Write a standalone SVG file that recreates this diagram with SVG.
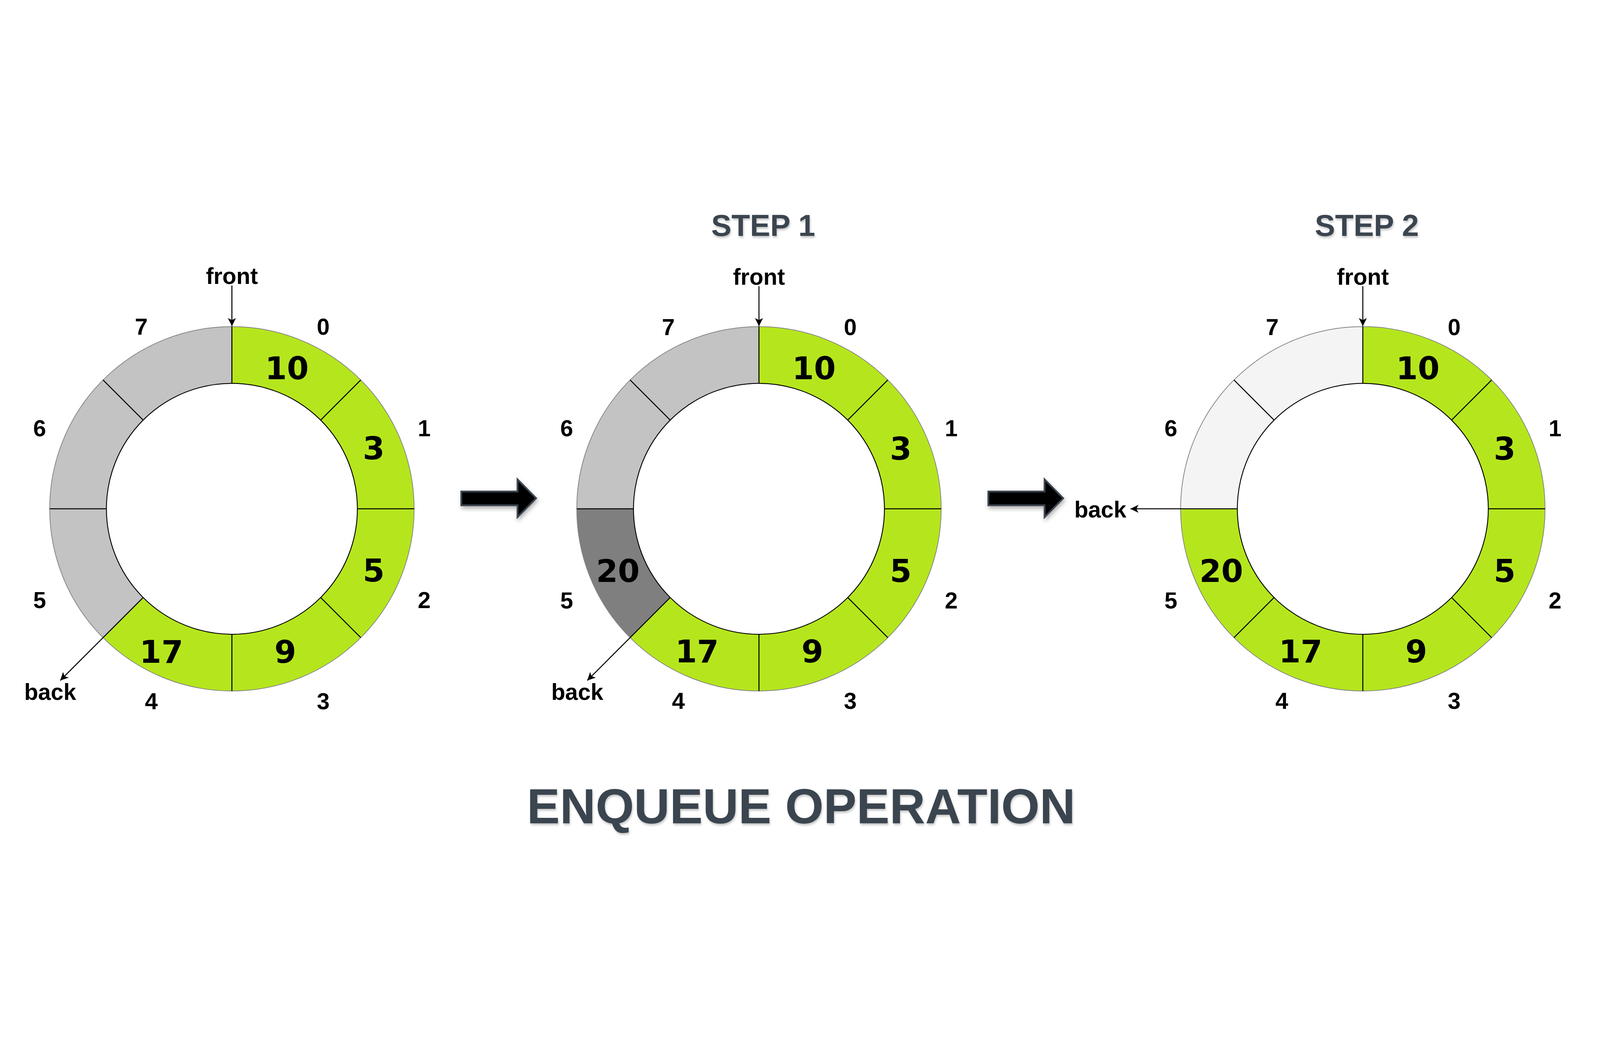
<svg xmlns="http://www.w3.org/2000/svg" xmlns:xlink="http://www.w3.org/1999/xlink" width="6375" height="2691" viewBox="0 0 6375 2691">
<style>
:root{width:100vw;height:100vh}
.g{fill:#b5e61d}.e{fill:#c3c3c3}.d{fill:#7f7f7f}.l{fill:#f4f4f4}
.num{font-family:"DejaVu Sans",Verdana,sans-serif;font-weight:bold;font-size:125px;fill:#000;text-anchor:middle}
.idx{font-family:"Liberation Sans",Arial,sans-serif;font-weight:bold;font-size:92px;fill:#000;text-anchor:middle}
.ptr{font-family:"Liberation Sans",Arial,sans-serif;font-weight:bold;font-size:91px;fill:#000;text-anchor:middle}
.title{font-family:"Liberation Sans",Arial,sans-serif;font-weight:bold;fill:#3b4450;text-anchor:middle}
.outer{fill:none;stroke:#858585;stroke-width:3}
.inner{fill:none;stroke:#000;stroke-width:3.5}
.div{stroke:#000;stroke-width:4;fill:none}
.thin{stroke:#000;stroke-width:4;fill:none;marker-end:url(#ah)}
.block{fill:#000;stroke:#3b4450;stroke-width:7;stroke-linejoin:miter}
</style>
<defs>
<filter id="sh" x="-10%" y="-20%" width="120%" height="160%">
<feDropShadow dx="3" dy="7" stdDeviation="4" flood-color="#000" flood-opacity="0.22"/>
</filter>
<filter id="ash" x="-20%" y="-30%" width="140%" height="160%">
<feDropShadow dx="4" dy="10" stdDeviation="8" flood-color="#000" flood-opacity="0.3"/>
</filter>
<marker id="ah" markerUnits="userSpaceOnUse" markerWidth="40" markerHeight="40" viewBox="-34 -20 36 40" refX="0" refY="0" orient="auto">
<path d="M0,0 L-32,-16 L-24,0 L-32,16 Z" fill="#000"/>
</marker>
<path id="s0" d="M0,-726 A726,726 0 0 1 513.4,-513.4 L353.6,-353.6 A500,500 0 0 0 0,-500 Z"/>
<path id="s1" d="M513.4,-513.4 A726,726 0 0 1 726,0 L500,0 A500,500 0 0 0 353.6,-353.6 Z"/>
<path id="s2" d="M726,0 A726,726 0 0 1 513.4,513.4 L353.6,353.6 A500,500 0 0 0 500,0 Z"/>
<path id="s3" d="M513.4,513.4 A726,726 0 0 1 0,726 L0,500 A500,500 0 0 0 353.6,353.6 Z"/>
<path id="s4" d="M0,726 A726,726 0 0 1 -513.4,513.4 L-353.6,353.6 A500,500 0 0 0 0,500 Z"/>
<path id="s5" d="M-513.4,513.4 A726,726 0 0 1 -726,0 L-500,0 A500,500 0 0 0 -353.6,353.6 Z"/>
<path id="s6" d="M-726,0 A726,726 0 0 1 -513.4,-513.4 L-353.6,-353.6 A500,500 0 0 0 -500,0 Z"/>
<path id="s7" d="M-513.4,-513.4 A726,726 0 0 1 0,-726 L0,-500 A500,500 0 0 0 -353.6,-353.6 Z"/>
<g id="frame">
<circle class="outer" r="726"/>
<circle class="inner" r="500"/>
<path class="div" d="M0,-500 V-726 M353.6,-353.6 L513.4,-513.4 M500,0 H726 M353.6,353.6 L513.4,513.4 M0,500 V726 M-353.6,353.6 L-513.4,513.4 M-500,0 H-726 M-353.6,-353.6 L-513.4,-513.4"/>
</g>
</defs>

<rect width="6375" height="2691" fill="#fff"/>

<g id="titles">
<text class="title" x="3041" y="192" font-size="121" filter="url(#sh)">STEP 1</text>
<text class="title" x="5446" y="192" font-size="121" filter="url(#sh)">STEP 2</text>
<text class="title" x="3192" y="2533" font-size="197" filter="url(#sh)">ENQUEUE OPERATION</text>
</g>

<g id="queue-initial" transform="translate(924,1279)">
<use xlink:href="#s0" class="g"/><use xlink:href="#s1" class="g"/><use xlink:href="#s2" class="g"/><use xlink:href="#s3" class="g"/>
<use xlink:href="#s4" class="g"/><use xlink:href="#s5" class="e"/><use xlink:href="#s6" class="e"/><use xlink:href="#s7" class="e"/>
<use xlink:href="#frame"/>
<text class="num" x="219" y="-516">10</text>
<text class="num" x="565" y="-197">3</text>
<text class="num" x="565" y="290">5</text>
<text class="num" x="213" y="613">9</text>
<text class="num" x="-281" y="613">17</text>
<text class="idx" x="364" y="-694">0</text>
<text class="idx" x="766" y="-289">1</text>
<text class="idx" x="766" y="396">2</text>
<text class="idx" x="364" y="799">3</text>
<text class="idx" x="-321" y="799">4</text>
<text class="idx" x="-766" y="396">5</text>
<text class="idx" x="-766" y="-289">6</text>
<text class="idx" x="-361" y="-694">7</text>
<text class="ptr" x="0" y="-896">front</text>
<text class="ptr" x="-724" y="761">back</text>
</g>

<g id="queue-step1" transform="translate(3024,1279)">
<use xlink:href="#s0" class="g"/><use xlink:href="#s1" class="g"/><use xlink:href="#s2" class="g"/><use xlink:href="#s3" class="g"/>
<use xlink:href="#s4" class="g"/><use xlink:href="#s5" class="d"/><use xlink:href="#s6" class="e"/><use xlink:href="#s7" class="e"/>
<use xlink:href="#frame"/>
<text class="num" x="219" y="-516">10</text>
<text class="num" x="565" y="-196">3</text>
<text class="num" x="565" y="292">5</text>
<text class="num" x="213" y="612">9</text>
<text class="num" x="-247" y="612">17</text>
<text class="num" x="-562" y="292">20</text>
<text class="idx" x="364" y="-693">0</text>
<text class="idx" x="766" y="-289">1</text>
<text class="idx" x="766" y="398">2</text>
<text class="idx" x="364" y="798">3</text>
<text class="idx" x="-321" y="798">4</text>
<text class="idx" x="-766" y="398">5</text>
<text class="idx" x="-766" y="-289">6</text>
<text class="idx" x="-361" y="-693">7</text>
<text class="ptr" x="0" y="-893">front</text>
<text class="ptr" x="-724" y="761">back</text>
</g>

<g id="queue-step2" transform="translate(5430,1279)">
<use xlink:href="#s0" class="g"/><use xlink:href="#s1" class="g"/><use xlink:href="#s2" class="g"/><use xlink:href="#s3" class="g"/>
<use xlink:href="#s4" class="g"/><use xlink:href="#s5" class="g"/><use xlink:href="#s6" class="l"/><use xlink:href="#s7" class="l"/>
<use xlink:href="#frame"/>
<text class="num" x="219" y="-516">10</text>
<text class="num" x="565" y="-196">3</text>
<text class="num" x="565" y="292">5</text>
<text class="num" x="213" y="612">9</text>
<text class="num" x="-248" y="612">17</text>
<text class="num" x="-564" y="292">20</text>
<text class="idx" x="364" y="-693">0</text>
<text class="idx" x="766" y="-289">1</text>
<text class="idx" x="766" y="398">2</text>
<text class="idx" x="364" y="798">3</text>
<text class="idx" x="-323" y="798">4</text>
<text class="idx" x="-765" y="398">5</text>
<text class="idx" x="-765" y="-289">6</text>
<text class="idx" x="-361" y="-693">7</text>
<text class="ptr" x="0" y="-893">front</text>
<text class="ptr" x="-1046" y="34">back</text>
</g>

<g id="connectors">
<line class="thin" x1="924" y1="389" x2="924" y2="551"/>
<line class="thin" x1="410.6" y1="1792.4" x2="240" y2="1963"/>
<line class="thin" x1="3024" y1="392" x2="3024" y2="551"/>
<line class="thin" x1="2510.6" y1="1792.4" x2="2340" y2="1963"/>
<line class="thin" x1="5430" y1="392" x2="5430" y2="551"/>
<line class="thin" x1="4704" y1="1279" x2="4504" y2="1279"/>
<polygon class="block" filter="url(#ash)" points="1838,1210 2062,1210 2062,1162 2136,1237 2062,1312 2062,1265 1838,1265"/>
<polygon class="block" filter="url(#ash)" points="3938,1210 4162,1210 4162,1162 4236,1237 4162,1312 4162,1265 3938,1265"/>
</g>
</svg>
